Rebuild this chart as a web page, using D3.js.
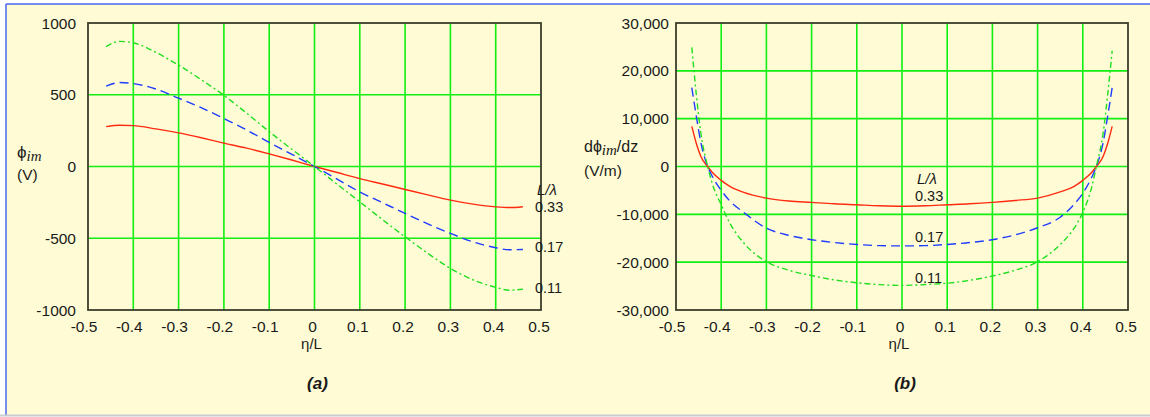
<html>
<head>
<style>
  body { margin: 0; background: #fff; }
  text { font-family: "Liberation Sans", Arial, sans-serif; fill: #1a1a1a; }
  .grid line { stroke: #11ee11; stroke-width: 1.6; }
  .frame { fill: none; stroke: #3b3d2c; stroke-width: 1.8; }
  .curve { fill: none; stroke-width: 1.4; }
</style>
</head>
<body>
<svg id="chart" width="1150" height="417"></svg>
<script src="https://d3js.org/d3.v7.min.js"></script>
<script>
// panel (a): potential vs eta/L
let etaA = [-0.46, -0.43, -0.40, -0.35, -0.30, -0.25, -0.20, -0.15, -0.10, -0.05, 0,
            0.05, 0.10, 0.15, 0.20, 0.25, 0.30, 0.35, 0.40, 0.43, 0.46]
let phi033 = [278, 287, 285, 262, 234, 200, 163, 128, 88, 45, 0,
              -42, -84, -122, -160, -198, -234, -262, -281, -286, -280]
let phi017 = [560, 585, 578, 540, 476, 410, 334, 255, 168, 85, 0,
              -88, -177, -252, -327, -400, -466, -525, -566, -580, -578]
let phi011 = [835, 872, 862, 795, 706, 605, 496, 372, 243, 120, 0,
              -124, -246, -370, -490, -605, -710, -790, -842, -862, -855]

// panel (b): field vs eta/L
let etaB = [-0.465, -0.455, -0.445, -0.43, -0.42, -0.40, -0.38, -0.35, -0.30, -0.25, -0.20, -0.15, -0.10, -0.05, 0,
            0.05, 0.10, 0.15, 0.20, 0.25, 0.30, 0.35, 0.38, 0.40, 0.42, 0.43, 0.445, 0.455, 0.465]
let dphi033 = [8400, 4800, 2100, 0, -1200, -2900, -4200, -5400, -6600, -7200, -7500, -7800, -8000, -8200, -8300,
               -8200, -8000, -7800, -7500, -7100, -6600, -5300, -4200, -2900, -1200, 0, 2100, 4800, 8400]
let dphi017 = [16500, 10500, 5000, 0, -2000, -5000, -7300, -9600, -12900, -14400, -15300, -15900, -16300, -16550, -16600,
               -16550, -16300, -15900, -15300, -14300, -12800, -10600, -8000, -5600, -2200, 0, 5000, 10500, 16500]
let dphi011 = [24900, 15000, 7000, 0, -3500, -8000, -12000, -16000, -19900, -21700, -22800, -23700, -24300, -24700, -24850,
               -24700, -24400, -23800, -22900, -21700, -19900, -16300, -13000, -9600, -4200, 0, 7000, 15000, 24200]

let seriesLabels = ["0.33", "0.17", "0.11"]
let xTicks = [-0.5, -0.4, -0.3, -0.2, -0.1, 0, 0.1, 0.2, 0.3, 0.4, 0.5]
let yTicksA = [-1000, -500, 0, 500, 1000]
let yTicksB = [-30000, -20000, -10000, 0, 10000, 20000, 30000]

let styles = [
    { color: "#ff2a10", dash: null },
    { color: "#1f3cff", dash: "9,5" },
    { color: "#22dd22", dash: "6,3,2,3" }
]

// plain hyphen instead of d3's unicode minus
let fmt = f => d => d3.format(f)(d).replace("−", "-")

let svg = d3.select("#chart")

// page background and frame lines
svg.append("rect").attr("x", 6).attr("y", 4).attr("width", 1144).attr("height", 411).attr("fill", "#fffcd5")
svg.append("line").attr("x1", 6).attr("x2", 1150).attr("y1", 4).attr("y2", 4).attr("stroke", "#4a66ee").attr("stroke-width", 1.5)
svg.append("line").attr("x1", 6).attr("x2", 6).attr("y1", 4).attr("y2", 415).attr("stroke", "#4a66ee").attr("stroke-width", 1.5)
svg.append("line").attr("x1", 0).attr("x2", 1150).attr("y1", 415.5).attr("y2", 415.5).attr("stroke", "#c8cbd0").attr("stroke-width", 2)

function drawPanel(opt) {
    let x = d3.scaleLinear().domain([-0.5, 0.5]).range([opt.left, opt.right])
    let y = d3.scaleLinear().domain(opt.yDomain).range([opt.bottom, opt.top])
    let g = svg.append("g")

    let grid = g.append("g").attr("class", "grid")
    grid.selectAll(".vx").data(xTicks.slice(1, -1)).join("line")
        .attr("x1", d => x(d)).attr("x2", d => x(d))
        .attr("y1", opt.top).attr("y2", opt.bottom)
    grid.selectAll(".hy").data(opt.yTicks.slice(1, -1)).join("line")
        .attr("x1", opt.left).attr("x2", opt.right)
        .attr("y1", d => y(d)).attr("y2", d => y(d))

    // curves
    let line = d3.line().x(d => x(d[0])).y(d => y(d[1])).curve(d3.curveMonotoneX)
    opt.series.forEach((vals, i) => {
        let pts = opt.xs.map((e, j) => [e, vals[j]])
        g.append("path").datum(pts)
            .attr("class", "curve")
            .attr("d", line)
            .attr("stroke", styles[i].color)
            .attr("stroke-dasharray", styles[i].dash)
    })

    g.append("rect").attr("class", "frame")
        .attr("x", opt.left).attr("y", opt.top)
        .attr("width", opt.right - opt.left).attr("height", opt.bottom - opt.top)

    // tick labels
    g.selectAll(".xt").data(xTicks).join("text")
        .attr("x", d => x(d) - (d < 0 ? 4 : 2)).attr("y", opt.bottom + 22)
        .attr("text-anchor", "middle").attr("font-size", 15.5)
        .text(fmt(""))
    g.selectAll(".yt").data(opt.yTicks).join("text")
        .attr("x", opt.left - opt.yPad).attr("y", d => y(d) + 5.5)
        .attr("text-anchor", "end").attr("font-size", 15.5)
        .text(fmt(opt.yFormat))

    g.append("text").attr("x", (opt.left + opt.right) / 2 - 3).attr("y", opt.bottom + 39)
        .attr("text-anchor", "middle").attr("font-size", 15).text("η/L")

    g.append("text").attr("x", (opt.left + opt.right) / 2 + 3).attr("y", 389)
        .attr("text-anchor", "middle").attr("font-size", 17)
        .attr("font-family", "'Open Sans', sans-serif")
        .attr("font-weight", "bold").attr("font-style", "italic")
        .text(opt.tag)

    // legend labels
    g.append("text").attr("x", opt.legX + 2).attr("y", opt.legY[0])
        .attr("font-family", "'Liberation Serif', serif").attr("font-style", "italic")
        .attr("font-size", 15).text("L/λ")
    seriesLabels.forEach((s, i) => {
        g.append("text").attr("x", opt.legX).attr("y", opt.legY[i + 1])
            .attr("font-size", 14.5).text(s)
    })
    return g
}

let gA = drawPanel({
    left: 88, right: 541, top: 23, bottom: 310,
    yDomain: [-1000, 1000], yTicks: yTicksA, yPad: 12, yFormat: "",
    xs: etaA, series: [phi033, phi017, phi011], tag: "(a)",
    legX: 535, legY: [195, 212, 251.5, 292.5]
})
let ya = gA.append("text").attr("x", 17).attr("y", 158).attr("font-size", 17)
ya.append("tspan").text("ϕ")
ya.append("tspan").attr("dy", 3).attr("font-family", "'Liberation Serif', serif")
    .attr("font-style", "italic").attr("font-size", 15).text("im")
gA.append("text").attr("x", 17).attr("y", 180).attr("font-size", 15.5).text("(V)")

let gB = drawPanel({
    left: 676, right: 1128, top: 23, bottom: 310,
    yDomain: [-30000, 30000], yTicks: yTicksB, yPad: 7, yFormat: ",",
    xs: etaB, series: [dphi033, dphi017, dphi011], tag: "(b)",
    legX: 915, legY: [184, 200.5, 241.5, 282.5]
})
let yb = gB.append("text").attr("x", 584).attr("y", 152).attr("font-size", 16)
yb.append("tspan").text("dϕ")
yb.append("tspan").attr("dy", 3).attr("font-family", "'Liberation Serif', serif")
    .attr("font-style", "italic").attr("font-size", 15).text("im")
yb.append("tspan").attr("dy", -3).text("/dz")
gB.append("text").attr("x", 584).attr("y", 176).attr("font-size", 15.5).text("(V/m)")
</script>
</body>
</html>
